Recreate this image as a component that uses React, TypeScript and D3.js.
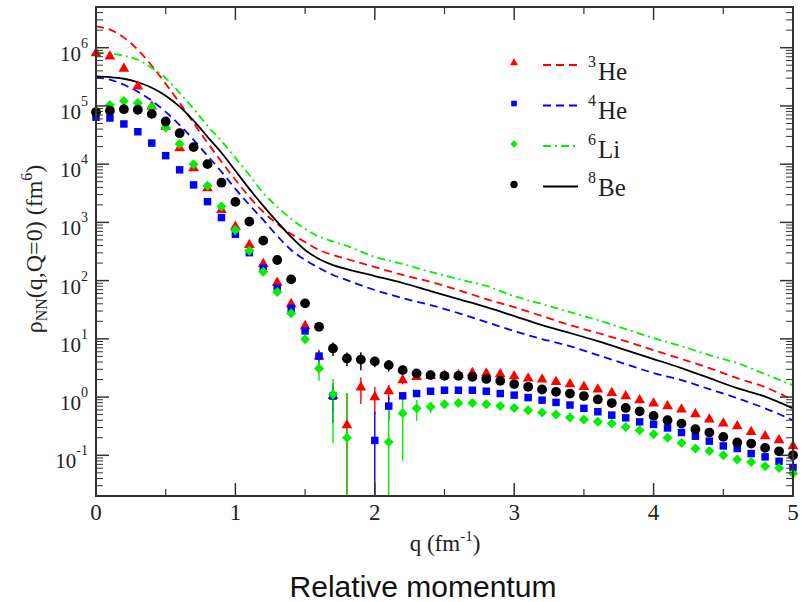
import React from "react";
import * as d3 from "d3";

// Relative momentum q (fm^-1) of the data points
const qPts = [
  0, 0.1, 0.2, 0.3, 0.4, 0.5, 0.6, 0.7, 0.8, 0.9,
  1.0, 1.1, 1.2, 1.3, 1.4, 1.5, 1.6, 1.7, 1.8, 1.9,
  2.0, 2.1, 2.2, 2.3, 2.4, 2.5, 2.6, 2.7, 2.8, 2.9,
  3.0, 3.1, 3.2, 3.3, 3.4, 3.5, 3.6, 3.7, 3.8, 3.9,
  4.0, 4.1, 4.2, 4.3, 4.4, 4.5, 4.6, 4.7, 4.8, 4.9, 5.0,
];

// Two-nucleon density at Q=0, data points (fm^6); null = not drawn
const he3Pts = [
  8.1e5, 7.1e5, 4.35e5, 2.16e5, 9.8e4, 4.4e4, 1.89e4, 8.5e3, 3.87e3, 1.64e3,
  845, 410, 193, 92, 39.6, 16.6, 5.0, 1.05, 0.33, 1.46,
  1.0, 1.26, 1.95, 2.22, 2.3, 2.35, 2.4, 2.6, 2.55, 2.48,
  2.29, 2.09, 2.01, 1.82, 1.67, 1.5, 1.35, 1.18, 1.04, 0.885,
  0.776, 0.698, 0.612, 0.508, 0.412, 0.352, 0.316, 0.252, 0.213, 0.182, 0.143,
];
const he4Pts = [
  6.4e4, 6.2e4, 4.9e4, 3.6e4, 2.3e4, 1.4e4, 8.0e3, 4.4e3, 2.27e3, 1.21e3,
  626, 302, 163, 74, 33.4, 13.7, 5.05, 1.04, null, null,
  0.18, 0.7, 1.05, 1.15, 1.26, 1.31, 1.31, 1.31, 1.26, 1.15,
  1.08, 0.98, 0.885, 0.81, 0.73, 0.64, 0.56, 0.49, 0.44, 0.375,
  0.34, 0.295, 0.246, 0.213, 0.175, 0.145, 0.131, 0.107, 0.094, 0.079, 0.0615,
];
const li6Pts = [
  8.0e4, 1.04e5, 1.22e5, 1.12e5, 9.5e4, 4.27e4, 2.21e4, 1.0e4, 4.24e3, 1.87e3,
  742, 327, 142, 64, 27.4, 9.8, 3.1, 1.11, 0.2, null,
  null, 0.17, 0.53, 0.64, 0.68, 0.75, 0.79, 0.79, 0.75, 0.7,
  0.65, 0.595, 0.543, 0.502, 0.446, 0.412, 0.375, 0.352, 0.307, 0.27,
  0.23, 0.2, 0.163, 0.131, 0.119, 0.1, 0.0845, 0.077, 0.065, 0.0606, 0.0485,
];
const be8Pts = [
  7.8e4, 8.3e4, 8.8e4, 8.6e4, 7.3e4, 5.4e4, 3.4e4, 1.96e4, 1.0e4, 4.8e3,
  2.25e3, 1.03e3, 486, 226, 105, 40.7, 16.1, 6.85, 4.6, 4.4,
  4.1, 3.54, 2.9, 2.55, 2.38, 2.32, 2.32, 2.22, 2.05, 1.9,
  1.67, 1.5, 1.35, 1.23, 1.15, 1.04, 0.91, 0.79, 0.65, 0.57,
  0.475, 0.4, 0.35, 0.28, 0.246, 0.207, 0.166, 0.159, 0.134, 0.117, 0.1,
];

// Statistical uncertainties [q, sigma]
const he3Err = [[1.6, 1.5], [1.7, 0.5], [1.8, 0.85], [1.9, 0.7], [2.0, 0.5], [2.1, 0.35], [2.2, 0.3], [2.3, 0.15]];
const he4Err = [[1.6, 1.0], [1.7, 0.68], [2.0, 0.38], [2.1, 0.3], [2.2, 0.15]];
const li6Err = [[1.5, 1.5], [1.6, 1.2], [1.7, 0.95], [1.8, 0.97], [2.1, 0.5], [2.2, 0.45], [2.3, 0.25], [2.4, 0.15], [2.5, 0.08]];
const be8Err = [[1.6, 1.5], [1.7, 1.8], [1.8, 1.2], [1.9, 1.5], [2.0, 0.85], [2.1, 0.8], [2.2, 0.4]];

// Theory curves
const curveQ = [
  0, 0.1, 0.2, 0.3, 0.4, 0.5, 0.6, 0.7, 0.8, 0.9, 1.0, 1.1, 1.2, 1.3, 1.4, 1.5, 1.6, 1.7, 1.8,
  2.0, 2.2, 2.4, 2.6, 2.8, 3.0, 3.2, 3.4, 3.6, 3.8, 4.0, 4.2, 4.4, 4.6, 4.8, 5.0,
];
const he3Curve = [
  2.32e6, 2.04e6, 1.49e6, 9.2e5, 4.9e5, 2.4e5, 1.13e5, 5.1e4, 2.33e4, 1.1e4,
  5.4e3, 2.74e3, 1.51e3, 940, 633, 461, 336, 275, 235,
  171, 125, 95, 69, 48, 35, 24.6, 17.2, 12.6, 9.1, 6.4, 4.5, 3.14, 2.11, 1.48, 0.885,
];
const he4Curve = [
  3.08e5, 2.82e5, 2.31e5, 1.75e5, 1.23e5, 7.9e4, 4.7e4, 2.62e4, 1.39e4, 7.4e3,
  3.77e3, 2.0e3, 1.1e3, 586, 336, 226, 165, 125, 102,
  69, 50, 38, 27.7, 19.4, 13.6, 9.9, 7.5, 5.25, 3.68, 2.58, 1.95, 1.37, 0.957, 0.64, 0.4,
];
const li6Curve = [
  8.3e5, 7.9e5, 7.3e5, 6.2e5, 4.5e5, 3.0e5, 1.68e5, 8.9e4, 4.6e4, 2.5e4,
  1.28e4, 6.5e3, 3.2e3, 1.85e3, 1.15e3, 773, 573, 470, 394,
  255, 193, 141, 106, 81, 54, 39.6, 28.8, 21, 14.7, 10.3, 7.5, 5.25, 3.83, 2.48, 1.6,
];
const be8Curve = [
  3.21e5, 3.13e5, 2.93e5, 2.55e5, 2.05e5, 1.5e5, 9.7e4, 5.6e4, 2.95e4, 1.57e4,
  7.7e3, 3.76e3, 1.92e3, 1.02e3, 562, 336, 235, 185, 158,
  120, 91, 66, 48, 35, 24.6, 17.2, 12.6, 9.1, 6.4, 4.5, 3.14, 2.11, 1.42, 1.02, 0.64,
];

const xTicks = [0, 1, 2, 3, 4, 5];
const xMinor = [0.5, 1.5, 2.5, 3.5, 4.5];
const yDecades = [-1, 0, 1, 2, 3, 4, 5, 6];

const nuclei = [
  { mass: "3", name: "He", color: "#ff0000", marker: "triangle", dash: "8,5", pts: he3Pts, err: he3Err, curve: he3Curve },
  { mass: "4", name: "He", color: "#0000ff", marker: "square", dash: "8,5", pts: he4Pts, err: he4Err, curve: he4Curve },
  { mass: "6", name: "Li", color: "#00f000", marker: "diamond", dash: "8,4,2,4", pts: li6Pts, err: li6Err, curve: li6Curve },
  { mass: "8", name: "Be", color: "#000000", marker: "circle", dash: "", pts: be8Pts, err: be8Err, curve: be8Curve },
];

const L = 96, R = 793, T = 7, B = 496;
const SERIF = "'Liberation Serif', 'Times New Roman', serif";
const AXIS = "#333";

function Marker({ kind, cx, cy, color, s = 1 }) {
  if (kind === "circle") return <circle cx={cx} cy={cy} r={4.9 * s} fill={color} />;
  if (kind === "diamond") {
    const r = 5.0 * s;
    return <path d={`M${cx},${cy - r}L${cx + r},${cy}L${cx},${cy + r}L${cx - r},${cy}Z`} fill={color} />;
  }
  const sym = kind === "triangle" ? d3.symbolTriangle : d3.symbolSquare;
  const size = kind === "triangle" ? 50 * s * s : 56 * s * s;
  return <path d={d3.symbol(sym, size)() || ""} transform={`translate(${cx},${cy})`} fill={color} />;
}

export default function App() {
  const x = d3.scaleLinear().domain([0, 5]).range([L, R]);
  const y = d3.scaleLog().domain([0.02, 5e6]).range([B, T]);

  const minorY: number[] = [];
  for (let e = -2; e <= 6; e++) {
    for (let k = 2; k <= 9; k++) {
      const v = k * Math.pow(10, e);
      if (v >= 0.02 && v <= 5e6) minorY.push(v);
    }
  }

  const line = (vals: number[]) =>
    d3.line<number>()
      .x((_, i) => x(curveQ[i]))
      .y((d) => y(d))
      .curve(d3.curveMonotoneX)(vals) || "";

  const legendRows = [63, 103.5, 144, 184.5];
  const legendText = [80, 119, 158, 196];

  return (
    <svg width={802} height={602} style={{ position: "absolute", left: 0, top: 0, background: "#fff" }}>
      <defs>
        <clipPath id="plotArea">
          <rect x={L} y={T} width={R - L} height={B - T} />
        </clipPath>
      </defs>
      <rect x={0} y={0} width={802} height={602} fill="#fff" />

      {/* theory curves */}
      <g clipPath="url(#plotArea)" fill="none">
        {nuclei.map((n, i) => (
          <path key={i} d={line(n.curve)} stroke={n.color} strokeWidth={1.8} strokeDasharray={n.dash || undefined} />
        ))}
      </g>

      {/* error bars (clipped at the frame) */}
      <g clipPath="url(#plotArea)">
        {nuclei.map((n, si) => (
          <g key={si}>
            {n.err.map(([q, s], k) => {
              const idx = qPts.findIndex((p) => Math.abs(p - q) < 1e-6);
              const v = n.pts[idx];
              if (v == null) return null;
              const lo = v - s > 0 ? y(v - s) : B;
              return <line key={k} x1={x(q)} x2={x(q)} y1={y(v + s)} y2={lo} stroke={n.color} strokeWidth={1.4} />;
            })}
          </g>
        ))}
      </g>

      {/* data points */}
      <g>
        {nuclei.map((n, si) => (
          <g key={si}>
            {n.pts.map((v, k) =>
              v == null ? null : <Marker key={k} kind={n.marker} cx={x(qPts[k])} cy={y(v)} color={n.color} />
            )}
          </g>
        ))}
      </g>

      {/* ticks */}
      <g stroke={AXIS}>
        {xTicks.map((t) => (
          <g key={t}>
            <line x1={x(t)} x2={x(t)} y1={B} y2={B - 13} strokeWidth={1.5} />
            <line x1={x(t)} x2={x(t)} y1={T} y2={T + 13} strokeWidth={1.5} />
          </g>
        ))}
        {xMinor.map((t) => (
          <g key={t}>
            <line x1={x(t)} x2={x(t)} y1={B} y2={B - 7} strokeWidth={1.2} />
            <line x1={x(t)} x2={x(t)} y1={T} y2={T + 7} strokeWidth={1.2} />
          </g>
        ))}
        {yDecades.map((e) => (
          <g key={e}>
            <line x1={L} x2={L + 13} y1={y(Math.pow(10, e))} y2={y(Math.pow(10, e))} strokeWidth={1.5} />
            <line x1={R} x2={R - 13} y1={y(Math.pow(10, e))} y2={y(Math.pow(10, e))} strokeWidth={1.5} />
          </g>
        ))}
        {minorY.map((v, i) => (
          <g key={i}>
            <line x1={L} x2={L + 7} y1={y(v)} y2={y(v)} strokeWidth={1} />
            <line x1={R} x2={R - 7} y1={y(v)} y2={y(v)} strokeWidth={1} />
          </g>
        ))}
      </g>
      <rect x={L} y={T} width={R - L} height={B - T} fill="none" stroke={AXIS} strokeWidth={2} />

      {/* tick labels */}
      <g fill="#222">
        {xTicks.map((t) => (
          <text key={t} x={x(t)} y={520} fontFamily={SERIF} fontSize={23} textAnchor="middle">{t}</text>
        ))}
        {yDecades.map((e) => (
          <text key={e} x={88} y={y(Math.pow(10, e)) + 13} fontFamily={SERIF} fontSize={21} textAnchor="end">
            10<tspan dy={-13} fontSize={14}>{e < 0 ? `-${-e}` : `${e}`}</tspan>
          </text>
        ))}
      </g>

      {/* axis titles */}
      <text x={445} y={551} fontFamily={SERIF} fontSize={23} textAnchor="middle" fill="#222">
        q (fm<tspan dy={-10} fontSize={15}>-1</tspan><tspan dy={10}>)</tspan>
      </text>
      <text transform="translate(42,249) rotate(-90)" fontFamily={SERIF} fontSize={24} textAnchor="middle" fill="#222">
        ρ<tspan dy={5} fontSize={16}>NN</tspan><tspan dy={-5}>(q,Q=0) (fm</tspan>
        <tspan dy={-10} fontSize={16}>6</tspan><tspan dy={10}>)</tspan>
      </text>
      <text x={423} y={597} fontFamily="'Liberation Sans', Arial, sans-serif" fontSize={30} textAnchor="middle" fill="#111">
        Relative momentum
      </text>

      {/* legend */}
      <g>
        {nuclei.map((n, i) => (
          <g key={i}>
            <Marker kind={n.marker} cx={514} cy={legendRows[i]} color={n.color} s={0.75} />
            <line x1={543} x2={578} y1={legendRows[i] + 2} y2={legendRows[i] + 2} stroke={n.color} strokeWidth={1.8} strokeDasharray={n.dash || undefined} />
            <text x={588} y={legendText[i] - 13} fontFamily={SERIF} fontSize={16} fill="#222">{n.mass}</text>
            <text x={598} y={legendText[i]} fontFamily={SERIF} fontSize={25} fill="#222">{n.name}</text>
          </g>
        ))}
      </g>
    </svg>
  );
}
